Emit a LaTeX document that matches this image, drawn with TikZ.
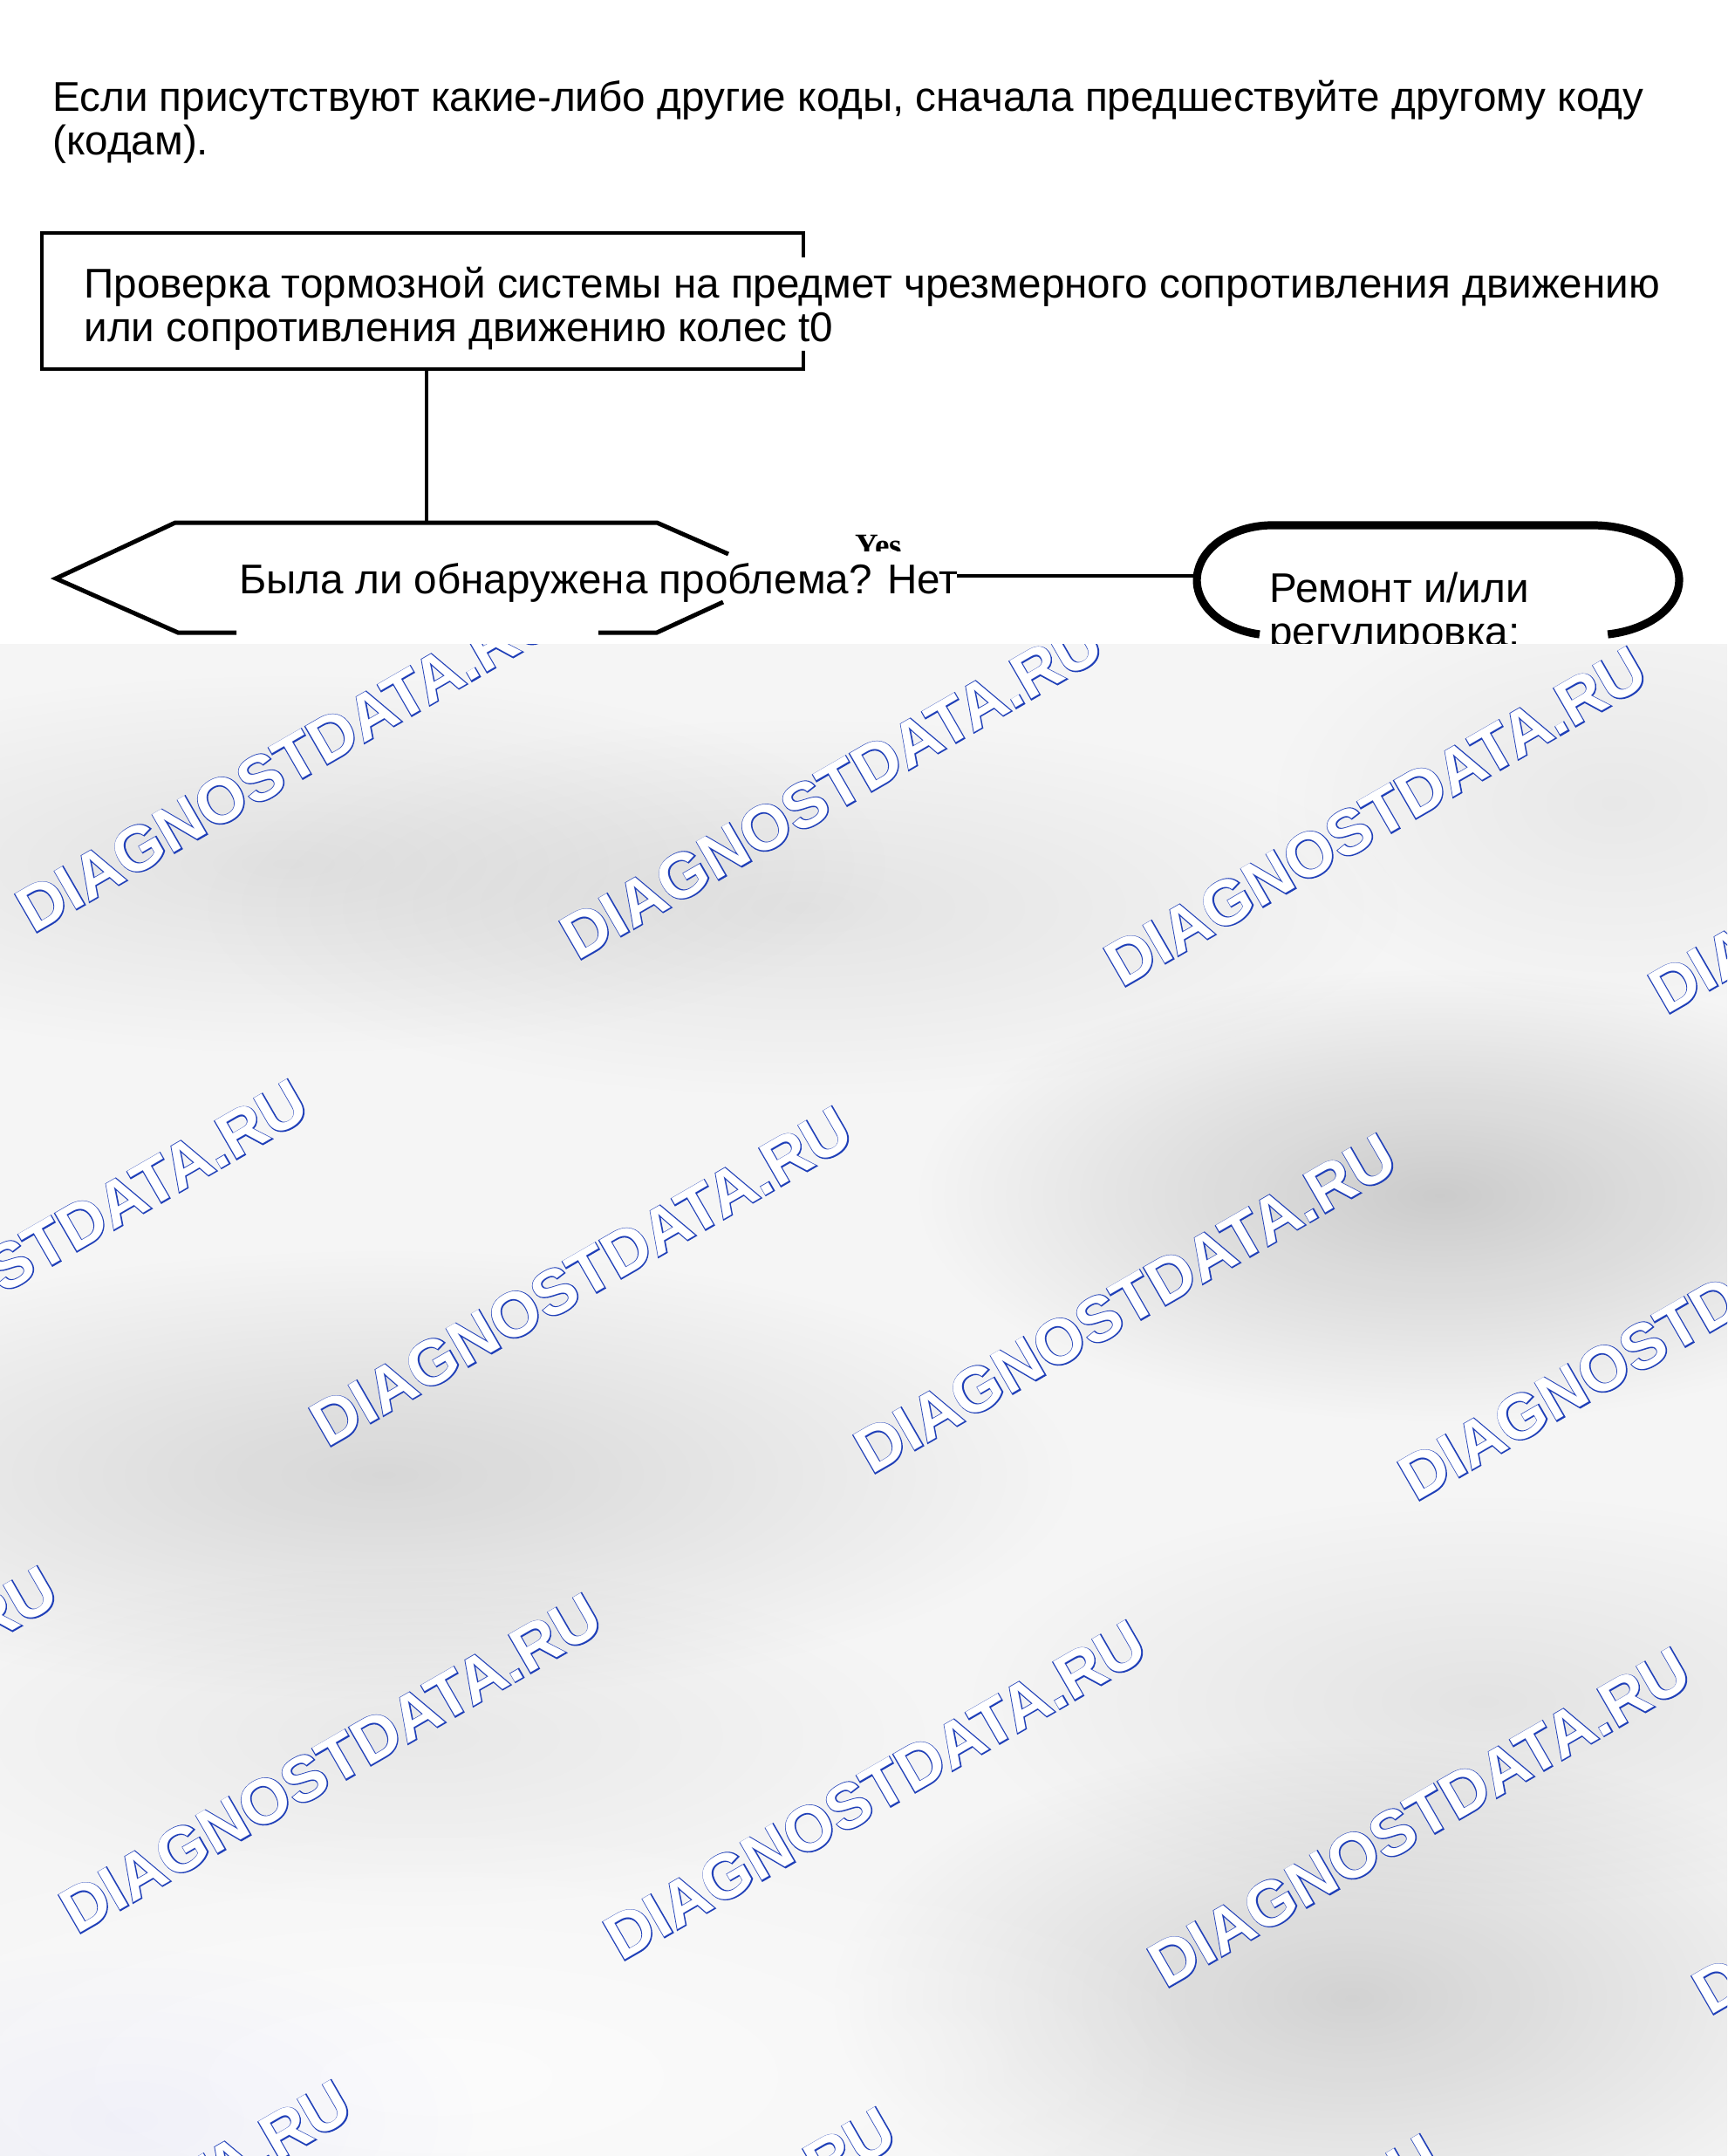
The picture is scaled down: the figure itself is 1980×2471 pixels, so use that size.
\documentclass[tikz,border=0pt]{standalone}
\usepackage{fontspec}
\setmainfont{Liberation Sans}
\newfontfamily\yesfont{Liberation Serif}
\newfontfamily\wmbold{Liberation Sans Bold}[FakeBold=3.2]
\newfontfamily\wmreg{Liberation Sans Bold}
\usetikzlibrary{fadings}
\tikzfading[name=softblob, inner color=transparent!0, outer color=transparent!100]
\definecolor{wmblue}{HTML}{1F3FB8}
\definecolor{bggray}{HTML}{F5F5F5}
\newcommand\wmsize{\fontsize{36.4pt}{37pt}\selectfont}
\newcommand\wmtext{\wmsize\rlap{\color{wmblue}\wmbold\wmsize DIAGNOSTDATA.RU}{\color{white}\wmreg\wmsize DIAGNOSTDATA.RU}}
\begin{document}
\begin{tikzpicture}[x=0.5pt,y=-0.5pt,
  txt/.style={anchor=base west, inner sep=0pt, font=\fontsize{23.8pt}{25pt}\selectfont},
  edge/.style={line width=2.3pt, line cap=butt},
  hexline/.style={line width=2.5pt, line join=miter},
  termline/.style={line width=4.6pt},
  wm/.style={anchor=base west, inner sep=0pt, rotate=30},
  blob/.style={black, path fading=softblob}]
\useasboundingbox (0,0) rectangle (1980,2471);
\fill[white] (0,0) rectangle (1980,2471);

% heading
\node[txt] (h1) at (60,128) {Если присутствуют какие-либо другие коды, сначала предшествуйте другому коду};
\node[txt] (h2) at (60,178) {(кодам).};

% process box (right edge broken by the text)
\draw[edge] (921,295) -- (921,267) -- (48,267) -- (48,423) -- (921,423) -- (921,402);
\node[txt] (b1) at (96,342) {Проверка тормозной системы на предмет чрезмерного сопротивления движению};
\node[txt] (b2) at (96,392) {или сопротивления движению колес t0};
\coordinate (boxs) at (489,423);
\coordinate (hexn) at (489,599);
\draw[edge] (boxs) -- (hexn);

% decision (partly erased hexagon)
\draw[hexline] (835,635) -- (753,599) -- (201,599) -- (64,663) -- (204,725) -- (271,725);
\draw[hexline] (686,725) -- (753,725) -- (829,690);
\node[txt] (q) at (274,680) {Была ли обнаружена проблема? Нет};

\begin{scope}
\clip (960,600) rectangle (1070,631);
\node[anchor=base west, inner sep=0pt, font=\yesfont\bfseries\fontsize{18.5pt}{20pt}\selectfont] (yes) at (980,637) {Yes};
\end{scope}

% terminal
\coordinate (noend) at (1097,660);
\coordinate (termw) at (1374,660);
\draw[edge] (noend) -- (termw);
\draw[termline] (1444,727) arc[start angle=100, end angle=270, x radius=87, y radius=63] -- (1826,602) arc[start angle=-90, end angle=80, x radius=99, y radius=63];
\node[txt] (r1) at (1455,690) {Ремонт и/или};
\node[txt] (r2) at (1455,740) {регулировка:};

% grey watermark area
\begin{scope}
\clip (0,738) rectangle (1980,2471);
\fill[bggray] (0,738) rectangle (1980,2471);
\fill[blob, opacity=0.08] (330,990) ellipse [x radius=700, y radius=220];
\fill[blob, opacity=0.07] (920,1040) ellipse [x radius=700, y radius=220];
\fill[blob, opacity=0.17] (1650,1370) ellipse [x radius=600, y radius=260];
\fill[blob, opacity=0.12] (440,1690) ellipse [x radius=800, y radius=260];
\fill[blob, opacity=0.14] (1550,2290) ellipse [x radius=600, y radius=300];
\fill[blob, opacity=0.07] (1700,1950) ellipse [x radius=600, y radius=240];
\fill[blob, opacity=0.05] (480,1990) ellipse [x radius=600, y radius=200];
\fill[blob, opacity=0.05] (1850,920) ellipse [x radius=400, y radius=240];
\fill[white, path fading=softblob, opacity=0.7] (500,2380) ellipse [x radius=900, y radius=300];
\fill[blue!40, path fading=softblob, opacity=0.08] (150,2430) ellipse [x radius=400, y radius=200];
\foreach \px/\py [count=\k] in {38/1071, 662/1102, 1286/1133, 1910/1164,
   -249/1629, 375/1660, 999/1691, 1623/1722,
   -536/2187, 88/2218, 712/2249, 1336/2280, 1960/2311,
   -199/2776, 425/2807, 1049/2838}
  \node[wm] (wm\k) at (\px,\py) {\wmtext};
\end{scope}
\end{tikzpicture}
\end{document}
